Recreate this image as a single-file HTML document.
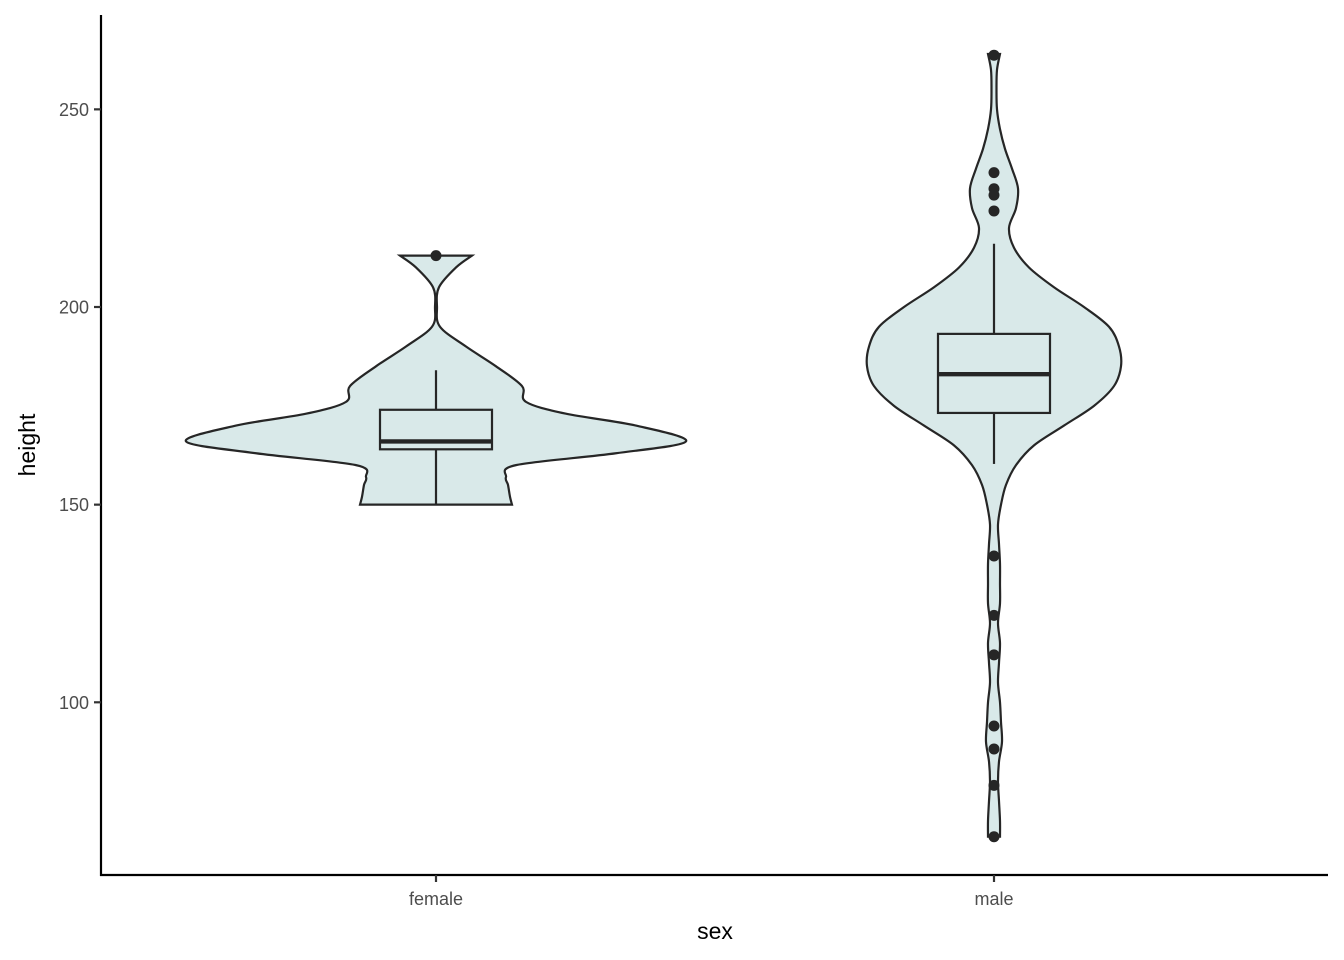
<!DOCTYPE html>
<html><head><meta charset="utf-8"><style>
html,body{margin:0;padding:0;background:#fff;}
svg{display:block;font-family:"Liberation Sans",Arial,sans-serif;}
</style></head><body>
<svg id="chart" width="1344" height="960"></svg>
<script>
const categories = ["female","male"];
const femaleDensityValues = [150,152,155,157,160,163,166,170,173,176,180,185,190,195,200,205,210,213];
const femaleDensityWidths = [76,74,72,70,80,180,250,200,130,90,86,60,30,4,1,3,20,36];
const maleDensityValues = [66,70,75,80,85,90,95,100,105,110,115,120,125,130,135,140,145,150,155,160,165,170,175,180,185,190,195,200,205,210,215,220,225,230,235,240,245,250,255,260,264];
const maleDensityWidths = [6,6,5,4,5,8,7,6,4,5,6,4,6,6,6,5,4,7,12,22,40,70,100,120,127,125,115,90,60,35,20,15,22,24,18,11,6,3,2.5,3,6];
const boxQ1 = [164,173.2];
const boxMedian = [166,183];
const boxQ3 = [174,193.2];
const whiskerLow = [150,160.3];
const whiskerHigh = [184,216];
const femaleOutliers = [213];
const maleOutliers = [263.7,234,229.9,228.3,224.3,137,122,112,94,88.2,79,66];
const yTicks = [100,150,200,250];

const NS="http://www.w3.org/2000/svg";
const svg=document.getElementById('chart');
const yScale=v=>307+(200-v)*3.953;
const xScale=i=>436+i*558;
const STROKE="#262626", FILL="#d9e9e9";
function mk(tag,attrs,parent){const e=document.createElementNS(NS,tag);for(const k in attrs)e.setAttribute(k,attrs[k]);(parent||svg).appendChild(e);return e;}

function smooth(pts){
  let d="M"+pts[0][0]+","+pts[0][1];
  for(let i=0;i<pts.length-1;i++){
    const p0=pts[Math.max(0,i-1)],p1=pts[i],p2=pts[i+1],p3=pts[Math.min(pts.length-1,i+2)];
    const c1=[p1[0]+(p2[0]-p0[0])/6,p1[1]+(p2[1]-p0[1])/6];
    const c2=[p2[0]-(p3[0]-p1[0])/6,p2[1]-(p3[1]-p1[1])/6];
    d+=" C"+c1[0]+","+c1[1]+" "+c2[0]+","+c2[1]+" "+p2[0]+","+p2[1];
  }
  return d;
}
function violinPath(ci,vals,ws){
  const cx=xScale(ci);
  const right=vals.map((v,i)=>[cx+ws[i],yScale(v)]);
  const left=vals.map((v,i)=>[cx-ws[i],yScale(v)]).reverse();
  let d=smooth(right);
  d+=" L"+left[0][0]+","+left[0][1];
  d+=smooth(left).replace(/^M[^ ]+/,"");
  return d+" Z";
}
const densV=[femaleDensityValues,maleDensityValues];
const densW=[femaleDensityWidths,maleDensityWidths];
const outl=[femaleOutliers,maleOutliers];
categories.forEach((c,i)=>{
  const cx=xScale(i);
  const g=mk('g',{});
  
  
  const vp=mk('path',{d:violinPath(i,densV[i],densW[i]),fill:FILL,stroke:STROKE,'stroke-width':2.2},g);
  
  
  const w1=mk('line',{x1:cx,x2:cx,y1:yScale(boxQ3[i]),y2:yScale(whiskerHigh[i]),stroke:STROKE,'stroke-width':2.2},g);
  
  
  const w2=mk('line',{x1:cx,x2:cx,y1:yScale(boxQ1[i]),y2:yScale(whiskerLow[i]),stroke:STROKE,'stroke-width':2.2},g);
  
  
  const b=mk('rect',{x:cx-56,y:yScale(boxQ3[i]),width:112,height:yScale(boxQ1[i])-yScale(boxQ3[i]),fill:FILL,stroke:STROKE,'stroke-width':2.2},g);
  
  
  const m=mk('line',{x1:cx-56,x2:cx+56,y1:yScale(boxMedian[i]),y2:yScale(boxMedian[i]),stroke:STROKE,'stroke-width':4.4},g);
  
  
  outl[i].forEach(v=>{
    const p=mk('circle',{cx:cx,cy:yScale(v),r:5.5,fill:STROKE},g);
    
    
  });
});
const ya=mk('line',{x1:101,x2:101,y1:15,y2:876,stroke:'#000','stroke-width':2.2});


const xa=mk('line',{x1:100,x2:1328,y1:875,y2:875,stroke:'#000','stroke-width':2.2});


yTicks.forEach(t=>{
  const y=yScale(t);
  const tk=mk('line',{x1:94,x2:101,y1:y,y2:y,stroke:'#333','stroke-width':2.2});
  
  
  const tx=mk('text',{x:89,y:y+6.5,'text-anchor':'end','font-size':18,fill:'#4d4d4d'});
  tx.textContent=t;
  
  
});
categories.forEach((c,i)=>{
  const x=xScale(i);
  const tk=mk('line',{x1:x,x2:x,y1:875,y2:882,stroke:'#333','stroke-width':2.2});
  
  
  const tx=mk('text',{x:x,y:905,'text-anchor':'middle','font-size':18,fill:'#4d4d4d'});
  tx.textContent=c;
  
  
});
const xt=mk('text',{x:715,y:939,'text-anchor':'middle','font-size':23,fill:'#000'});
xt.textContent='sex';


const yt=mk('text',{x:0,y:0,'text-anchor':'middle','font-size':23,fill:'#000',transform:'translate(35,445) rotate(-90)'});
yt.textContent='height';


</script>
</body></html>
